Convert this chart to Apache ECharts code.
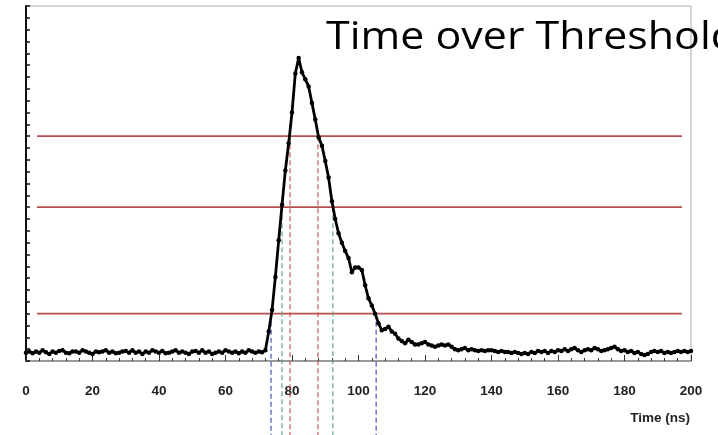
<!DOCTYPE html>
<html>
<head>
<meta charset="utf-8">
<script src="https://cdn.jsdelivr.net/npm/echarts@6/dist/echarts.min.js"></script>
<style>
html,body{margin:0;padding:0;background:#fff;}
#chart{width:718px;height:435px;}
</style>
</head>
<body>
<div id="chart"></div>
<script>
// ---- data (time in ns, signal in arbitrary units) ----
const sampleStep = 1; // ns
const signal = [
  7,8,6.5,8,7,9,7.5,6,8,7,
  8.5,9,7,6.5,8,8,7,9,8,7,
  6,8,7.5,8,9,7,8,6.5,7,8,
  8.5,7,9,7,8,6,8,7,9,8,
  7,8.5,6.5,7,8,9,7,8,7,6,
  8,8.5,7,9,7,8,6,7,8,7,
  9,8,7,8,6.5,8,7,9,8,7,
  8,7.5,
  9,25,43,71,102,132,161,184,210,243,
  256,244,238,232,218,204,189,182,169,155,
  135,120,108,100,93,87,75,79,79,77,
  64,53,47,40,32,26,27,29,25,23,
  19,17,15,18,16,14,14,15,16,14,
  13,12,13,14,13,14,12,10,9,10,
  11,9,10,9,8.5,9,8.5,9,9,8.5,
  7.6,8.5,7.6,7.6,6.8,7.6,6.8,6,6.8,6,
  7.6,6.8,8.5,7.6,8.5,6.8,8.5,7.6,9,8.5,
  10,8.5,10,11,9,7.6,9,10,9,11,
  10,8.5,9,10,11,12,10,8.5,9,7.6,
  8.5,6.8,7.6,6,5,6,7.6,8.5,7.6,8.5,
  6.8,7.6,6.8,7.6,8.5,7.6,8.5,7.6,8.5
];
const thresholds = [40, 130, 190];
const crossLow  = [73.7, 105.3];   // blue
const crossMid  = [77.0, 92.3];    // green
const crossHigh = [79.4, 87.8];    // red
const xTicks = [0, 20, 40, 60, 80, 100, 120, 140, 160, 180, 200];
const titleText = 'Time over Threshold';
const xName = 'Time (ns)';

// ---- layout / style ----
const lineStartX = 3.3, lineEndX = 197.3, dropBottom = -63;
const chart = echarts.init(document.getElementById('chart'), null, {renderer: 'canvas'});
const signalData = signal.map((v, i) => [i * sampleStep, v]);

const series = [];
thresholds.forEach(th => {
  series.push({
    type: 'line', data: [[lineStartX, th], [lineEndX, th]],
    symbol: 'none', silent: true, z: 1,
    lineStyle: {color: '#b6504f', width: 1.6}
  });
});
function drops(times, th, color) {
  times.forEach(t => {
    series.push({
      type: 'line', data: [[t, th], [t, dropBottom]], clip: false,
      symbol: 'none', silent: true, z: 1,
      lineStyle: {color: color, width: 1.1, type: [5, 3]}
    });
  });
}
drops(crossLow, thresholds[0], '#3a46b8');
drops(crossMid, thresholds[1], '#5c9e78');
drops(crossHigh, thresholds[2], '#d04848');
series.push({
  type: 'line', data: signalData, z: 5,
  symbol: 'circle', symbolSize: 4.5, showAllSymbol: true,
  itemStyle: {color: '#000'},
  lineStyle: {color: '#000', width: 2.8}
});

chart.setOption({
  animation: false,
  grid: {left: 26, right: 27, top: 6, bottom: 74, show: true, borderColor: '#aaa', borderWidth: 1},
  xAxis: {
    type: 'value', min: xTicks[0], max: xTicks[xTicks.length - 1], interval: 20,
    axisLine: {show: true, onZero: false, lineStyle: {color: '#888', width: 1.5}},
    axisTick: {show: true, inside: true, length: 6, lineStyle: {color: '#333'}},
    minorTick: {show: true, splitNumber: 5, length: 3, lineStyle: {color: '#333'}},
    splitLine: {show: false},
    axisLabel: {margin: 23, fontFamily: 'Liberation Sans', fontWeight: 'bold', fontSize: 13.5, color: '#222'}
  },
  yAxis: {
    type: 'value', min: 0, max: 300, interval: 10,
    axisLine: {show: true, lineStyle: {color: '#111', width: 2}},
    axisTick: {show: true, inside: true, length: 4, lineStyle: {color: '#111', width: 1.5}},
    splitLine: {show: false},
    axisLabel: {show: false}
  },
  series: series,
  graphic: [
    {type: 'text', x: 326, y: 19, scaleX: 1.13,
     style: {text: titleText, font: '38px "Open Sans"', fill: '#000', textVerticalAlign: 'top'}, z: 100},
    {type: 'text', x: 690, y: 418,
     style: {text: xName, font: 'bold 13.5px "Liberation Sans"', fill: '#222', textAlign: 'right', textVerticalAlign: 'middle'}, z: 100}
  ]
});
</script>
</body>
</html>
